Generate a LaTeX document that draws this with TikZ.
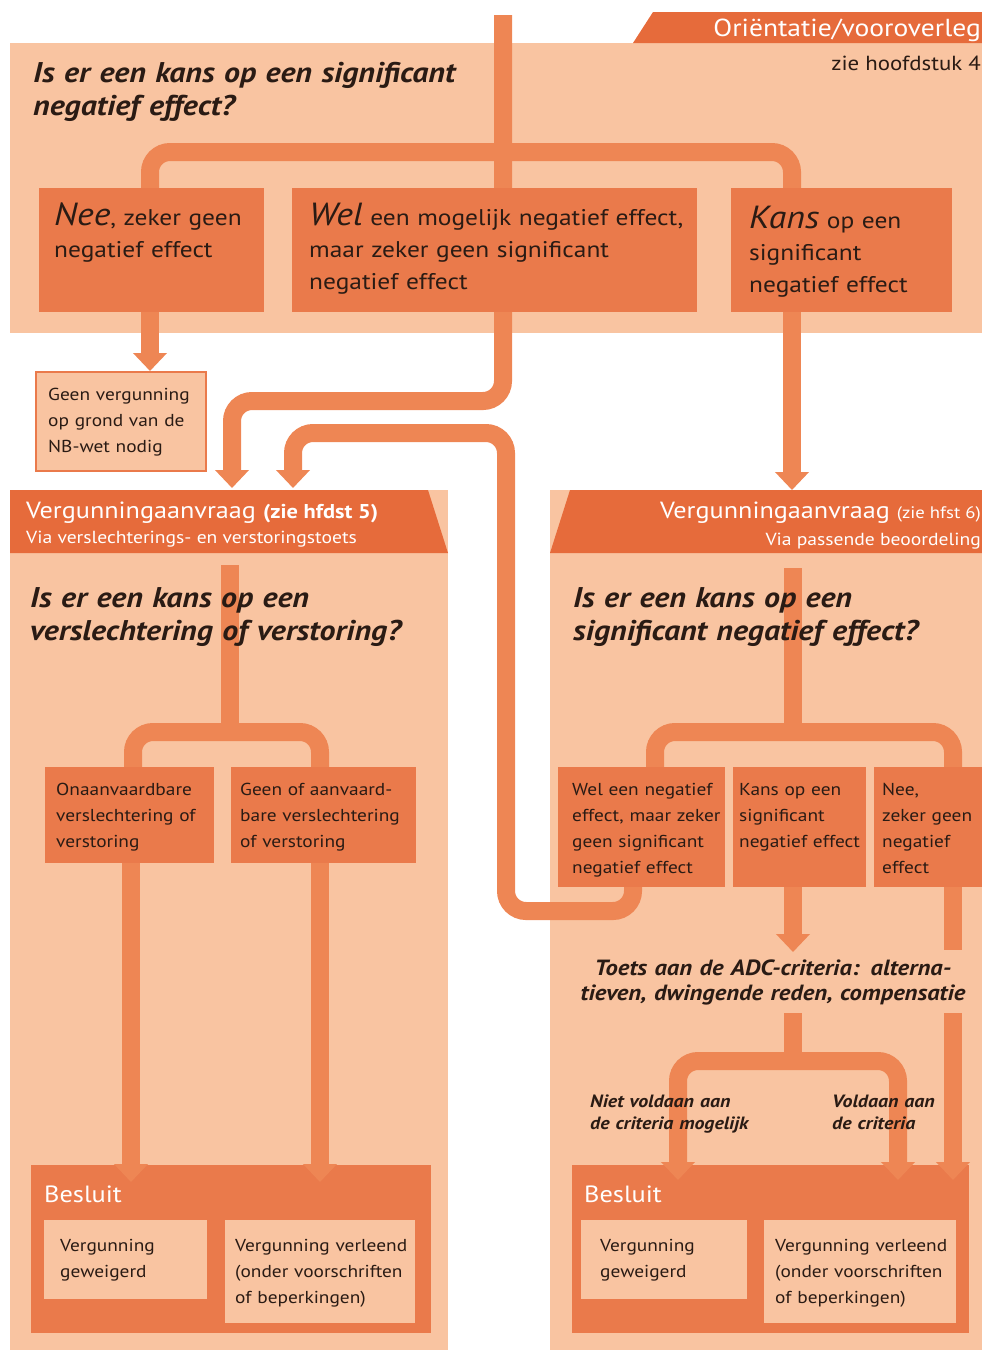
\documentclass[tikz,border=0pt]{standalone}
\usepackage{fontspec}
\setmainfont{PT Sans}[FakeStretch=1.12]
\usetikzlibrary{arrows.meta}
\definecolor{peach}{HTML}{F9C4A1}
\definecolor{flowc}{HTML}{EE8654}
\definecolor{boxc}{HTML}{EA7A4B}
\definecolor{headc}{HTML}{E66B3B}
\definecolor{ink}{HTML}{2A1B14}
\newcommand{\fsz}[2]{\fontsize{#1}{#2}\selectfont}
\tikzset{
  flow/.style={draw=flowc, line width=18pt, rounded corners=20pt},
  arr/.style={-{Triangle[width=33pt,length=18pt]}},
  darr/.style={{Triangle[width=33pt,length=18pt]}-{Triangle[width=33pt,length=18pt]}},
  boxn/.style={fill=boxc, draw=none, inner sep=0pt, anchor=north west},
  inbox/.style={fill=peach, draw=none, inner sep=0pt, anchor=north west},
  txt/.style={inner sep=0pt, anchor=base west, text=ink, align=left},
  wtxt/.style={inner sep=0pt, text=white},
  qtxt/.style={txt, font=\fsz{28.5}{33}\bfseries\itshape},
  btxt/.style={txt, font=\fsz{22.7}{32}},
  stxt/.style={txt, font=\fsz{17.3}{26}},
}
\begin{document}
\begin{tikzpicture}[x=1pt,y=-1pt]
\useasboundingbox (0,0) rectangle (982,1350);
% ---------- backgrounds
\fill[peach] (10,43) rectangle (982,333);
\fill[peach] (10,490) rectangle (448,1350);
\fill[peach] (550,490) rectangle (982,1350);
\fill[headc] (633,43) -- (653,12) -- (982,12) -- (982,43) -- cycle;
\fill[headc] (10,490) -- (428,490) -- (448,553) -- (10,553) -- cycle;
\fill[headc] (570,490) -- (982,490) -- (982,553) -- (550,553) -- cycle;
\node[wtxt, anchor=base east, font=\fsz{24.6}{26}] (orient) at (981,36) {Oriëntatie/vooroverleg};
\node[txt, anchor=base east, font=\fsz{20.4}{22}] (hfd4) at (981,70) {zie hoofdstuk 4};

% ---------- top flows
\draw[flow, arr] (503,15) -- (503,401) -- (232,401) -- (232,488);
\draw[flow, arr] (633,880) -- (633,911) -- (506,911) -- (506,433) -- (293,433) -- (293,488);
\draw[flow] (150,230) -- (150,152) -- (792,152) -- (792,230);
\draw[flow, arr] (150,300) -- (150,371);
\draw[flow, arr] (792,300) -- (792,490);

% ---------- top boxes
\node[boxn, minimum width=225pt, minimum height=124pt] (nee) at (39,188) {};
\node[boxn, minimum width=405pt, minimum height=124pt] (wel) at (292,188) {};
\node[boxn, minimum width=221pt, minimum height=124pt] (kans) at (731,188) {};
\node[inbox, draw=boxc, line width=2pt, minimum width=170pt, minimum height=99pt] (geen) at (35,371) {};

\node[qtxt, text width=460pt] (q1) at (33,82) {Is er een kans op een significant\\negatief effect?};
\node[btxt, text width=215pt] (tnee) at (54,225) {{\fsz{32}{32}\itshape Nee}, zeker geen\\negatief effect};
\node[btxt, text width=400pt] (twel) at (309,225) {{\fsz{32}{32}\itshape Wel} een mogelijk negatief effect,\\maar zeker geen significant\\negatief effect};
\node[btxt, text width=210pt] (tkans) at (749,228) {{\fsz{32}{32}\itshape Kans} op een\\significant\\negatief effect};
\node[stxt, text width=160pt] (tgeen) at (48,400) {Geen vergunning\\op grond van de\\NB-wet nodig};

% ---------- panel headers
\node[wtxt, anchor=base west, font=\fsz{23.4}{26}] (h5) at (26,518) {Vergunningaanvraag {\fsz{20}{20}\bfseries(zie hfdst 5)}};
\node[wtxt, anchor=base west, font=\fsz{17.5}{20}] (h5b) at (26,543) {Via verslechterings- en verstoringstoets};
\node[wtxt, anchor=base east, font=\fsz{23.4}{26}] (h6) at (981,518) {Vergunningaanvraag {\fsz{16.7}{20}(zie hfst 6)}};
\node[wtxt, anchor=base east, font=\fsz{17.5}{20}] (h6b) at (981,545) {Via passende beoordeling};

% ---------- left panel flows
\draw[flow] (230,565) -- (230,732);
\draw[flow] (133,790) -- (133,732) -- (320,732) -- (320,790);
% ---------- right panel flows
\draw[flow] (793,568) -- (793,732);
\draw[flow] (655,790) -- (655,732) -- (953,732) -- (953,790);
\draw[flow, arr] (793,880) -- (793,952);
\draw[flow] (953,880) -- (953,950);
\draw[flow] (793,1013) -- (793,1061);

% ---------- decision boxes
\node[boxn, minimum width=169pt, minimum height=96pt] (onaan) at (45,767) {};
\node[boxn, minimum width=185pt, minimum height=96pt] (aanv) at (231,767) {};
\node[boxn, minimum width=167pt, minimum height=120pt] (rwel) at (558,767) {};
\node[boxn, minimum width=133pt, minimum height=120pt] (rkans) at (733,767) {};
\node[boxn, minimum width=108pt, minimum height=120pt] (rnee) at (874,767) {};

\node[qtxt, text width=410pt] (q2) at (30,607) {Is er een kans op een\\verslechtering of verstoring?};
\node[qtxt, text width=410pt] (q3) at (573,607) {Is er een kans op een\\significant negatief effect?};

\node[stxt, text width=160pt] (tonaan) at (56,795) {Onaanvaardbare\\verslechtering of\\verstoring};
\node[stxt, text width=180pt] (taanv) at (240,795) {Geen of aanvaard-\\bare verslechtering\\of verstoring};
\node[stxt, text width=160pt] (trwel) at (572,795) {Wel een negatief\\effect, maar zeker\\geen significant\\negatief effect};
\node[stxt, text width=130pt] (trkans) at (739,795) {Kans op een\\significant\\negatief effect};
\node[stxt, text width=100pt] (trnee) at (882,795) {Nee,\\zeker geen\\negatief\\effect};

\node[txt, anchor=base, align=center, text width=430pt, font=\fsz{22}{25}\bfseries\itshape] (adc) at (773,975) {Toets aan de ADC-criteria: alterna-\\tieven, dwingende reden, compensatie};

% ---------- Besluit boxes
\node[boxn, minimum width=400pt, minimum height=168pt] (bes1) at (31,1165) {};
\node[boxn, minimum width=397pt, minimum height=168pt] (bes2) at (572,1165) {};

% arrows into Besluit
\draw[flow, arr] (131,863) -- (131,1182);
\draw[flow, arr] (320,863) -- (320,1182);
\draw[flow, darr] (678,1180) -- (678,1061) -- (898,1061) -- (898,1180);
\draw[flow, arr] (953,1013) -- (953,1180);

\node[txt, text width=200pt, font=\fsz{17.8}{22}\bfseries\itshape] (niet) at (590,1107) {Niet voldaan aan\\de criteria mogelijk};
\node[txt, text width=140pt, font=\fsz{17.8}{22}\bfseries\itshape] (vold) at (832,1107) {Voldaan aan\\de criteria};

\node[wtxt, anchor=base west, font=\fsz{23.5}{28}] (b1) at (44,1202) {Besluit};
\node[wtxt, anchor=base west, font=\fsz{23.5}{28}] (b2) at (584,1202) {Besluit};

\node[inbox, minimum width=163pt, minimum height=79pt] (gew1) at (44,1220) {};
\node[inbox, minimum width=190pt, minimum height=103pt] (ver1) at (225,1220) {};
\node[inbox, minimum width=166pt, minimum height=79pt] (gew2) at (581,1220) {};
\node[inbox, minimum width=192pt, minimum height=103pt] (ver2) at (764,1220) {};

\node[stxt, text width=150pt] (tgew1) at (60,1251) {Vergunning\\geweigerd};
\node[stxt, text width=185pt] (tver1) at (235,1251) {Vergunning verleend\\(onder voorschriften\\of beperkingen)};
\node[stxt, text width=150pt] (tgew2) at (600,1251) {Vergunning\\geweigerd};
\node[stxt, text width=185pt] (tver2) at (775,1251) {Vergunning verleend\\(onder voorschriften\\of beperkingen)};
\end{tikzpicture}
\end{document}
